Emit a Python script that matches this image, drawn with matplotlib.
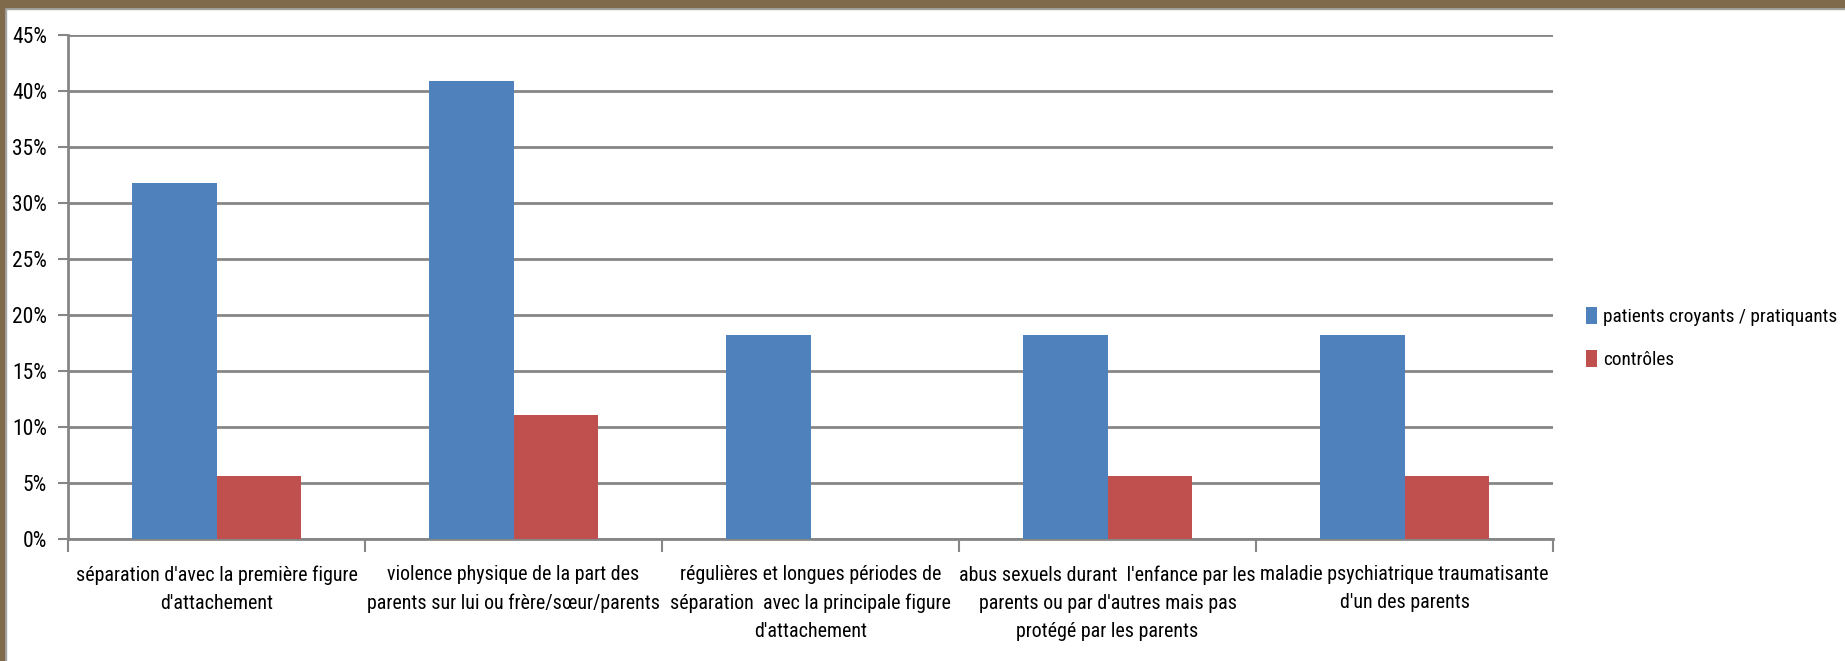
import numpy as np
import matplotlib
matplotlib.use("Agg")
import matplotlib.pyplot as plt
from matplotlib import font_manager as fm
from matplotlib.patches import Rectangle

# =========================================================
# DATA
# =========================================================
categories = [
    "séparation d'avec la première figure\nd'attachement",
    "violence physique de la part des\nparents sur lui ou frère/sœur/parents",
    "régulières et longues périodes de\nséparation  avec la principale figure\nd'attachement",
    "abus sexuels durant  l'enfance par les\nparents ou par d'autres mais pas\nprotégé par les parents",
    "maladie psychiatrique traumatisante\nd'un des parents",
]
patients = [0.318, 0.409, 0.182, 0.182, 0.182]
controles = [0.056, 0.111, 0.0, 0.056, 0.056]
series_names = ["patients croyants / pratiquants", "contrôles"]
y_ticks = [0, 0.05, 0.10, 0.15, 0.20, 0.25, 0.30, 0.35, 0.40, 0.45]

BLUE = "#4F81BD"
RED = "#C0504D"
GRID = "#868686"
BORDER = "#7F6A4B"

# =========================================================
# FONT : look for a narrow face (Calibri-like look)
# =========================================================
def pick_font():
    prefs = ["Liberation Sans Narrow", "Noto Sans Condensed", "Noto Sans SemiCondensed",
             "Roboto Condensed", "Open Sans Condensed", "DejaVu Sans Condensed"]
    regular = [f for f in fm.fontManager.ttflist
               if f.style == "normal" and f.weight in (400, "normal", "regular")]
    for p in prefs:
        for f in regular:
            if f.name == p:
                return f.name, f.stretch
    for f in regular:
        if f.stretch in ("condensed", "semi-condensed") and "Mono" not in f.name:
            return f.name, f.stretch
    return "Liberation Sans", "normal"

font_name, font_stretch = pick_font()
plt.rcParams['font.family'] = [font_name, 'DejaVu Sans']
plt.rcParams['font.stretch'] = font_stretch

# =========================================================
# FIGURE
# =========================================================
fig = plt.figure(figsize=(18.45, 6.61), dpi=100)
ax = fig.add_axes([68 / 1845, 1 - 539 / 661, (1553 - 68) / 1845, (539 - 35) / 661])
renderer = fig.canvas.get_renderer()

def fit_size(text, target_px, base=14):
    t = fig.text(0, 0, text, fontsize=base)
    wpx = t.get_window_extent(renderer).width
    t.remove()
    return base * target_px / wpx

cat_size = min(fit_size("séparation d'avec la première figure", 285), 16)
tick_size = min(fit_size("45%", 35), 16)
leg_size = min(fit_size(series_names[0], 236), 16)

x = np.arange(len(categories))
w = 1 / 3.5
ax.bar(x - w / 2, patients, w, color=BLUE, label=series_names[0], zorder=3)
ax.bar(x + w / 2, controles, w, color=RED, label=series_names[1], zorder=3)

ax.set_xlim(-0.5, len(categories) - 0.5)
ax.set_ylim(0, 0.45)
ax.set_yticks(y_ticks)
ax.set_yticklabels([f"{int(round(t * 100))}%" for t in y_ticks], fontsize=tick_size)
ax.yaxis.grid(True, color=GRID, linewidth=2, zorder=0)
ax.set_axisbelow(True)

# category labels between boundary ticks
ax.set_xticks(np.arange(len(categories) + 1) - 0.5)
ax.set_xticklabels([])
ax.tick_params(axis='x', length=9, width=1.5, color=GRID, direction='out')
ax.tick_params(axis='y', length=7, width=1.5, color=GRID, pad=8)
for i, lab in enumerate(categories):
    ax.annotate(lab, xy=(i, 0), xycoords=('data', 'axes fraction'),
                xytext=(0, -19), textcoords='offset points',
                ha='center', va='top', fontsize=cat_size, linespacing=1.6)

for s in ["top", "right"]:
    ax.spines[s].set_visible(False)
ax.spines["left"].set_color(GRID)
ax.spines["left"].set_linewidth(2)
ax.spines["bottom"].set_color(GRID)
ax.spines["bottom"].set_linewidth(2)

leg = fig.legend(loc='center left', bbox_to_anchor=(1576 / 1845, 1 - 338 / 661),
                 frameon=False, fontsize=leg_size, handlelength=0.6, handleheight=1.0,
                 handletextpad=0.3, labelspacing=1.2, borderpad=0)

# frame border (brown) around picture
fig.add_artist(Rectangle((0, 1 - 7 / 661), 1, 7 / 661, transform=fig.transFigure,
                         color=BORDER, zorder=10))
fig.add_artist(Rectangle((0, 1 - 9 / 661), 1, 2 / 661, transform=fig.transFigure,
                         color="#A6A6A6", zorder=9))
fig.add_artist(Rectangle((0, 0), 4 / 1845, 1, transform=fig.transFigure,
                         color=BORDER, zorder=10))
fig.add_artist(Rectangle((4 / 1845, 0), 2 / 1845, 1, transform=fig.transFigure,
                         color="#A6A6A6", zorder=9))

fig.savefig("out.png", dpi=100)
